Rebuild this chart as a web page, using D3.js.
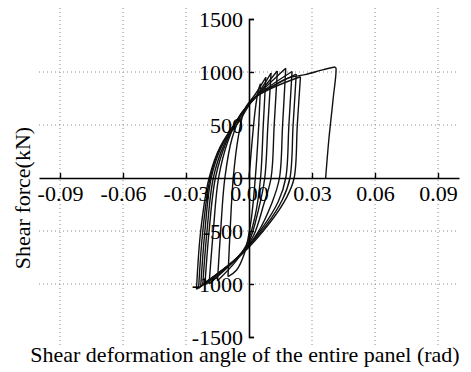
<!DOCTYPE html>
<html>
<head>
<meta charset="utf-8">
<script src="https://cdn.jsdelivr.net/npm/d3@7"></script>
<style>
  body { margin: 0; background: #fff; }
  svg { display: block; }
</style>
</head>
<body>
<div id="chart"></div>
<script>
// Ticks
const xTicks = [-0.09, -0.06, -0.03, 0, 0.03, 0.06, 0.09];
const yTicks = [-1500, -1000, -500, 0, 500, 1000, 1500];
const xGrid = [-0.09, -0.06, -0.03, 0.03, 0.06, 0.09];
const yGrid = [-1000, -500, 500, 1000];

// Hysteresis cycles: [angle (rad), force (kN)]
// each cycle = [loading branch up to + peak, unloading branch down to - peak]
const cycle1 = [
  [[0, 0], [0.0015, 350], [0.003, 650], [0.0045, 830], [0.0055, 890]],
  [[0.0055, 890], [0.0045, 450], [0.003, 0], [0.001, -400], [-0.002, -700], [-0.006, -870], [-0.010, -930]]
];
const cycle2 = [
  [[-0.010, -930], [-0.009, -500], [-0.0075, 0], [-0.005, 400], [-0.002, 650], [0.003, 790], [0.008, 950]],
  [[0.008, 950], [0.0068, 500], [0.0055, 0], [0.003, -350], [-0.001, -620], [-0.006, -780], [-0.015, -970]]
];
const cycle3 = [
  [[-0.015, -970], [-0.0135, -500], [-0.0115, 0], [-0.008, 380], [-0.003, 620], [0.003, 760], [0.0105, 990]],
  [[0.0105, 990], [0.009, 500], [0.0075, 0], [0.0045, -300], [0.0, -600], [-0.006, -760], [-0.019, -1000]]
];
const cycle4 = [
  [[-0.019, -1000], [-0.017, -500], [-0.0145, 0], [-0.010, 350], [-0.004, 600], [0.003, 760], [0.0135, 1010]],
  [[0.0135, 1010], [0.012, 500], [0.0105, 0], [0.007, -250], [0.002, -550], [-0.005, -740], [-0.021, -1010]]
];
const cycle5 = [
  [[-0.021, -1010], [-0.019, -500], [-0.016, 0], [-0.011, 330], [-0.004, 600], [0.003, 760], [0.0175, 1035]],
  [[0.0175, 1035], [0.016, 500], [0.0145, 0], [0.011, -230], [0.004, -520], [-0.005, -740], [-0.022, -1000]]
];
const cycle6 = [
  [[-0.022, -1000], [-0.020, -500], [-0.017, 0], [-0.012, 310], [-0.004, 590], [0.003, 760], [0.0205, 1005]],
  [[0.0205, 1005], [0.019, 500], [0.0175, 0], [0.014, -220], [0.006, -480], [-0.005, -740], [-0.023, -1020]]
];
const cycle7 = [
  [[-0.023, -1020], [-0.021, -500], [-0.018, 0], [-0.013, 300], [-0.004, 590], [0.003, 760], [0.0225, 980]],
  [[0.0225, 980], [0.021, 500], [0.0195, 0], [0.016, -200], [0.008, -450], [-0.005, -740], [-0.024, -1040]]
];
const cycle8 = [
  [[-0.024, -1040], [-0.022, -500], [-0.0185, 0], [-0.0135, 300], [-0.005, 560], [0.003, 760], [0.0245, 955]],
  [[0.0245, 955], [0.023, 500], [0.0215, 0], [0.018, -180], [0.010, -420], [-0.004, -730], [-0.025, -1050]]
];
const finalPush = [
  [[-0.025, -1050], [-0.023, -500], [-0.019, 0], [-0.0135, 300], [-0.0052, 520], [0.003, 764],
   [0.0105, 858], [0.0186, 943], [0.0267, 975], [0.035, 1020], [0.041, 1047]],
  [[0.041, 1047], [0.0414, 1037], [0.040, 735], [0.038, 358], [0.0365, 0]]
];
const cycles = [cycle1, cycle2, cycle3, cycle4, cycle5, cycle6, cycle7, cycle8, finalPush];

const W = 471, H = 372;
const font = "'Liberation Serif', 'Times New Roman', serif";

const svg = d3.select('#chart').append('svg')
  .attr('width', W)
  .attr('height', H)
  .style('background', '#fff');

const x = d3.scaleLinear().domain([-0.1, 0.1]).range([39, 459]);
const y = d3.scaleLinear().domain([-1500, 1500]).range([337, 19]);

// dotted grid
svg.append('g').selectAll('line')
  .data(xGrid)
  .join('line')
  .attr('x1', d => x(d)).attr('x2', d => x(d))
  .attr('y1', 8).attr('y2', 346)
  .attr('stroke', '#8a8a8a')
  .attr('stroke-width', 1)
  .attr('stroke-dasharray', '1,3');

svg.append('g').selectAll('line')
  .data(yGrid)
  .join('line')
  .attr('x1', x(-0.1)).attr('x2', x(0.1))
  .attr('y1', d => y(d)).attr('y2', d => y(d))
  .attr('stroke', '#8a8a8a')
  .attr('stroke-width', 1)
  .attr('stroke-dasharray', '1,3');

// hysteresis curves
const line = d3.line()
  .x(d => x(d[0]))
  .y(d => y(d[1]))
  .curve(d3.curveCatmullRom.alpha(0.5));

const curves = svg.append('g');
cycles.forEach(c => {
  c.forEach(branch => {
    curves.append('path')
      .datum(branch)
      .attr('d', line)
      .attr('fill', 'none')
      .attr('stroke', '#111')
      .attr('stroke-width', 1.4);
  });
});

// x axis through zero
const xAxis = d3.axisBottom(x)
  .tickValues(xTicks)
  .tickSizeInner(-5)
  .tickSizeOuter(0)
  .tickPadding(7)
  .tickFormat(d => d.toFixed(2));

const gx = svg.append('g')
  .attr('transform', `translate(0,${y(0)})`)
  .call(xAxis);

// y axis through zero
const yAxis = d3.axisLeft(y)
  .tickValues(yTicks)
  .tickSizeInner(-5)
  .tickSizeOuter(-5)
  .tickPadding(6)
  .tickFormat(d => String(d));

const gy = svg.append('g')
  .attr('transform', `translate(${x(0)},0)`)
  .call(yAxis);

[gx, gy].forEach(g => {
  g.select('.domain').attr('stroke', '#000').attr('stroke-width', 1.6);
  g.selectAll('.tick line').attr('stroke', '#000').attr('stroke-width', 1.4);
  g.selectAll('.tick text')
    .style('font-family', font)
    .style('font-size', '22px')
    .attr('fill', '#000');
});

// axis titles
svg.append('text')
  .attr('x', 245)
  .attr('y', 362)
  .attr('text-anchor', 'middle')
  .style('font-family', font)
  .style('font-size', '22px')
  .text('Shear deformation angle of the entire panel (rad)');

svg.append('text')
  .attr('transform', 'translate(30,198) rotate(-90)')
  .attr('text-anchor', 'middle')
  .style('font-family', font)
  .style('font-size', '22px')
  .text('Shear force(kN)');
</script>
</body>
</html>
